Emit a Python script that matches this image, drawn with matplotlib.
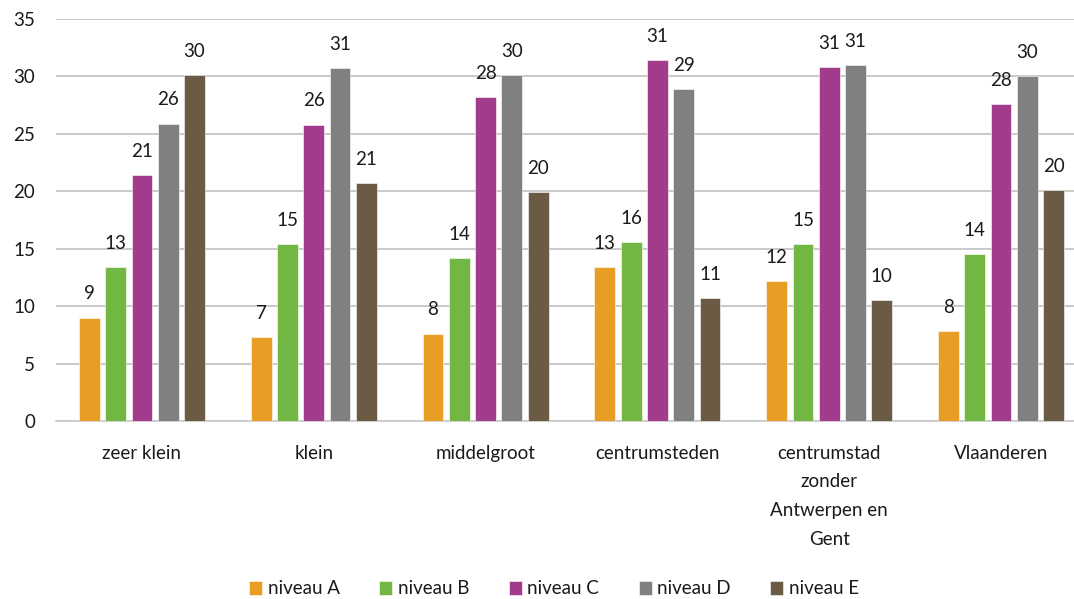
import numpy as np
import matplotlib
matplotlib.use("Agg")
import matplotlib.pyplot as plt

# data
categories = ["zeer klein", "klein", "middelgroot", "centrumsteden",
              "centrumstad\nzonder\nAntwerpen en\nGent", "Vlaanderen"]
series_names = ["niveau A", "niveau B", "niveau C", "niveau D", "niveau E"]
niveau_a = [9.0, 7.3, 7.6, 13.4, 12.2, 7.8]
niveau_b = [13.4, 15.4, 14.2, 15.6, 15.4, 14.5]
niveau_c = [21.4, 25.8, 28.2, 31.4, 30.8, 27.6]
niveau_d = [25.9, 30.7, 30.1, 28.9, 31.0, 30.0]
niveau_e = [30.1, 20.7, 19.9, 10.7, 10.5, 20.1]
colors = ["#E89D25", "#72B743", "#A33B8C", "#808080", "#6B5B45"]

plt.rcParams["font.family"] = ["Lato", "DejaVu Sans"]

fig = plt.figure(figsize=(10.74, 5.99), dpi=100)
ax = fig.add_axes([56 / 1074, 178 / 599, 1031 / 1074, 402 / 599])

values = [niveau_a, niveau_b, niveau_c, niveau_d, niveau_e]
x = np.arange(len(categories))
step = 0.153
width = 0.121
for i, (name, vals, col) in enumerate(zip(series_names, values, colors)):
    pos = x + (i - 2) * step
    ax.bar(pos, vals, width, color=col, label=name, zorder=3,
           edgecolor="white", linewidth=0.4)
    for xp, v in zip(pos, vals):
        ax.annotate(f"{v:.0f}", (xp, v), xytext=(0, 11), textcoords="offset points",
                    ha="center", va="bottom", fontsize=13.5, color="#1a1a1a")

ax.set_xlim(-0.5, len(categories) - 0.5)
ax.set_ylim(0, 35)
ax.set_yticks(range(0, 36, 5))
ax.set_xticks(x)
ax.set_xticklabels(categories, linespacing=1.84)
ax.tick_params(axis="both", length=0, labelsize=13.5, colors="#1a1a1a")
ax.tick_params(axis="y", pad=15)
ax.tick_params(axis="x", pad=17)
ax.yaxis.grid(True, color="#c0c0c0", linewidth=1.2, zorder=0)
for s in ["top", "right", "left"]:
    ax.spines[s].set_visible(False)
ax.spines["bottom"].set_color("#c8c8c8")
ax.spines["bottom"].set_linewidth(1.2)

fig.legend(loc="center", bbox_to_anchor=(554 / 1074, 1 - 589 / 599), ncol=5,
           frameon=False, fontsize=13.5, handlelength=0.7, handleheight=0.7,
           handletextpad=0.3, columnspacing=2.1, labelcolor="#1a1a1a")

fig.savefig("out.png", dpi=100)
